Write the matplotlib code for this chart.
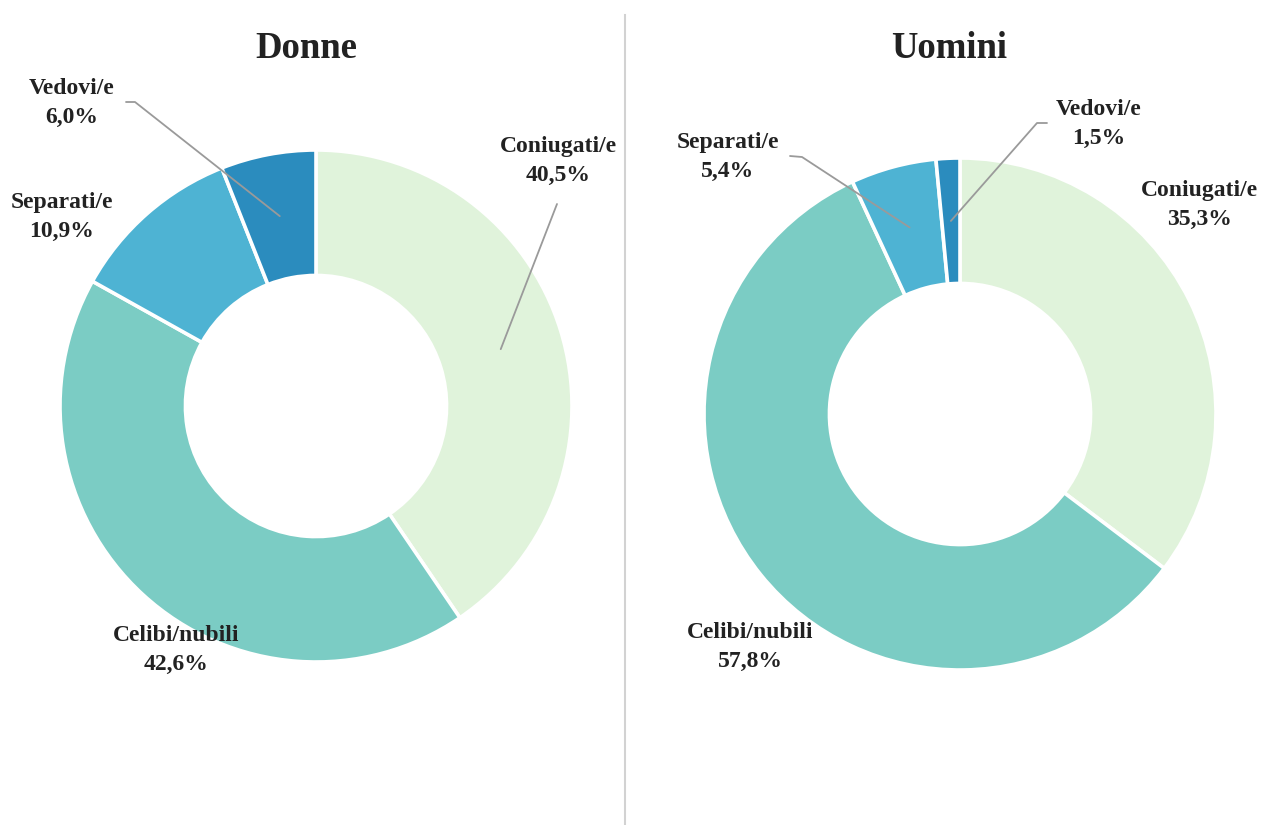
import numpy as np
import matplotlib
matplotlib.use("Agg")
import matplotlib.pyplot as plt

# data
categories = ["Coniugati/e", "Celibi/nubili", "Separati/e", "Vedovi/e"]
donne = [40.5, 42.6, 10.9, 6.0]
uomini = [35.3, 57.8, 5.4, 1.5]
colors = ["#e0f3db", "#7bccc4", "#4eb3d3", "#2b8cbe"]

W, H = 1263, 825
fig = plt.figure(figsize=(W / 100, H / 100), dpi=100)
ax = fig.add_axes([0, 0, 1, 1])

FONT = "Liberation Serif"
txt_col = "#222222"
line_col = "#9a9a9a"

def fmt(v):
    return f"{v:.1f}".replace(".", ",") + "%"

def donut(values, cx, cy, r, title, tx, label_pos, leaders):
    # cx, cy in image pixels (cy from top)
    c = (cx, H - cy)
    wedges, _ = ax.pie(values, colors=colors, startangle=90, counterclock=False,
                       radius=r, center=c, frame=True,
                       wedgeprops=dict(width=r * 0.49, edgecolor="white", linewidth=2.6))
    ax.text(tx, H - 48, title, ha="center", va="center", fontsize=26.5,
            fontweight="bold", family=FONT, color=txt_col)
    for i, name in enumerate(categories):
        lx, ly = label_pos[i]
        ax.text(lx, H - ly, f"{name}\n{fmt(values[i])}", ha="center", va="center",
                fontsize=17, fontweight="bold", family=FONT, color=txt_col,
                linespacing=1.5)
        if i in leaders:
            w = wedges[i]
            ang = np.deg2rad((w.theta1 + w.theta2) / 2)
            rm = r * 0.755
            ex, ey = c[0] + rm * np.cos(ang), c[1] + rm * np.sin(ang)
            pts = leaders[i]
            xs = [p[0] for p in pts] + [ex]
            ys = [H - p[1] for p in pts] + [ey]
            ax.plot(xs, ys, color=line_col, lw=1.3, solid_capstyle="round")

donut(donne, 316, 406, 256, "Donne", 306,
      [(558, 161), (176, 650), (62, 217), (72, 103)],
      {0: [(557, 204)], 3: [(126, 102), (135, 102)]})

donut(uomini, 960, 414, 256, "Uomini", 949,
      [(1199, 205), (750, 647), (728, 157), (1099, 124)],
      {2: [(790, 156), (802, 157)], 3: [(1047, 123), (1037, 123)]})

# separator
ax.plot([625, 625], [0, H - 15], color="#d2d2d2", lw=1.5)

ax.set_xlim(0, W)
ax.set_ylim(0, H)
ax.set_aspect("equal")
ax.axis("off")

fig.savefig("out.png", dpi=100, facecolor="white")
